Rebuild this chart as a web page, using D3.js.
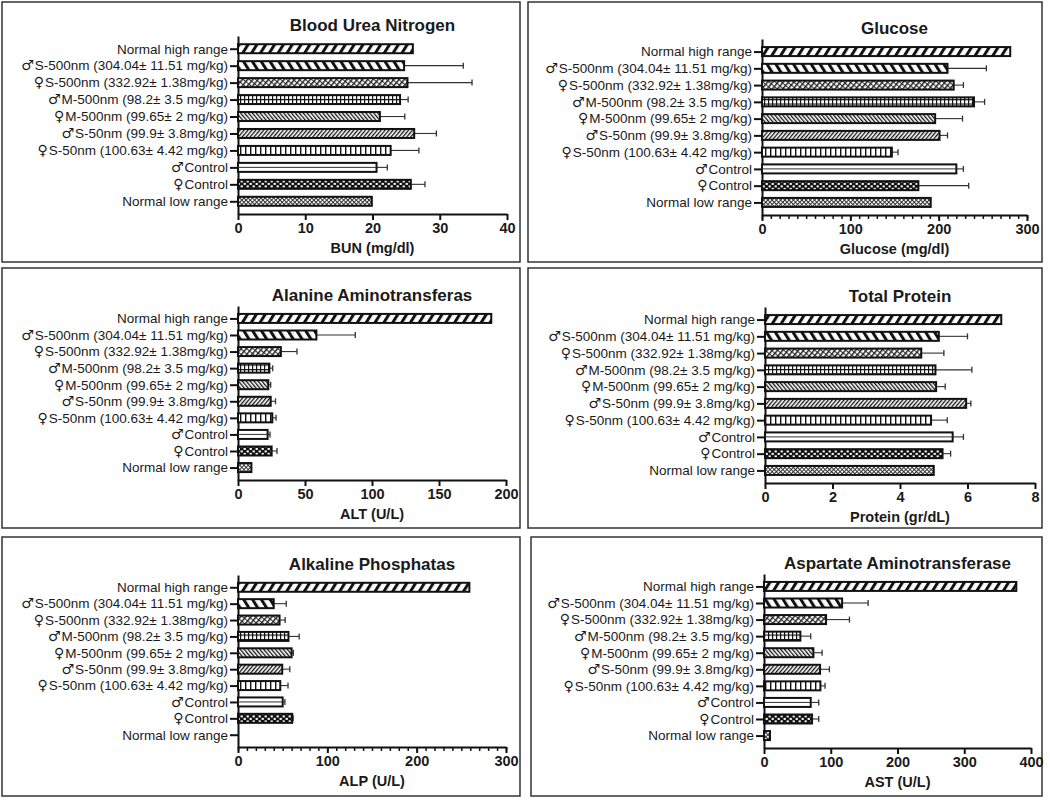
<!DOCTYPE html>
<html>
<head>
<meta charset="utf-8">
<script src="https://cdn.jsdelivr.net/npm/d3@7"></script>
<style>
  body { margin: 0; background: #fff; }
  svg text { font-family: "Liberation Sans", Arial, sans-serif; fill: #1a1a1a; }
</style>
</head>
<body>
<svg id="chart" width="1050" height="802"></svg>
<script>
// categories, top to bottom
const categories = [
  "Normal high range",
  "\u2642S-500nm (304.04\u00b1 11.51 mg/kg)",
  "\u2640S-500nm (332.92\u00b1 1.38mg/kg)",
  "\u2642M-500nm (98.2\u00b1 3.5 mg/kg)",
  "\u2640M-500nm (99.65\u00b1 2 mg/kg)",
  "\u2642S-50nm (99.9\u00b1 3.8mg/kg)",
  "\u2640S-50nm (100.63\u00b1 4.42 mg/kg)",
  "\u2642Control",
  "\u2640Control",
  "Normal low range"
];

// means and upper error (SD) per panel, same order as categories
const bunMean = [26, 24.7, 25.2, 24.1, 21.1, 26.2, 22.7, 20.6, 25.7, 19.9];
const bunErr  = [0, 8.8, 9.6, 1.2, 3.7, 3.3, 4.2, 1.6, 2.1, 0];
const glucoseMean = [281, 210, 217, 240, 196, 201, 147, 220, 177, 191];
const glucoseErr  = [0, 44, 11, 12, 31, 9, 7, 8, 57, 0];
const altMean = [189, 58.5, 32, 23.4, 22.6, 24.4, 25.6, 22.1, 25.1, 10];
const altErr  = [0, 29, 12, 2.5, 1.8, 3.6, 2.8, 1.8, 4, 0];
const proteinMean = [7.0, 5.15, 4.63, 5.05, 5.07, 5.96, 4.92, 5.56, 5.26, 5.0];
const proteinErr  = [0, 0.85, 0.67, 1.08, 0.27, 0.14, 0.48, 0.32, 0.24, 0];
const alpMean = [259, 40, 46.5, 56.5, 60, 49.5, 47.3, 50, 60.7, 0];
const alpErr  = [0, 14, 6.3, 12, 2, 8.5, 8.7, 2.5, 1, 0];
const astMean = [378, 117, 93, 54.5, 74, 84, 84.5, 70, 72, 9];
const astErr  = [0, 39, 35, 15.5, 13, 14, 7, 12, 10, 0];

// tick labels
const bunTicks = [0, 10, 20, 30, 40];
const glucoseTicks = [0, 100, 200, 300];
const altTicks = [0, 50, 100, 150, 200];
const proteinTicks = [0, 2, 4, 6, 8];
const alpTicks = [0, 100, 200, 300];
const astTicks = [0, 100, 200, 300, 400];

const svg = d3.select('#chart');
const defs = svg.append('defs');

// hatch patterns, one per category
function stripes(id, period, width, angle) {
  const p = defs.append('pattern').attr('id', id)
    .attr('patternUnits', 'userSpaceOnUse')
    .attr('width', period).attr('height', period)
    .attr('patternTransform', 'rotate(' + angle + ')');
  p.append('rect').attr('width', period).attr('height', period).attr('fill', '#fff');
  p.append('rect').attr('width', width).attr('height', period).attr('fill', '#111');
}
stripes('wideFwd', 7.5, 3, 32);
stripes('wideBack', 7.5, 3, -32);
stripes('fineBack', 3, 1.3, -40);
stripes('fineFwd', 3, 1.3, 40);
stripes('vert', 5, 1.4, 0);

let p = defs.append('pattern').attr('id', 'dotHatch')
  .attr('patternUnits', 'userSpaceOnUse').attr('width', 4).attr('height', 4)
  .attr('patternTransform', 'rotate(40)');
p.append('rect').attr('width', 4).attr('height', 4).attr('fill', '#fff');
p.append('rect').attr('width', 1.5).attr('height', 4).attr('fill', '#222');
p.append('rect').attr('width', 4).attr('height', 0.9).attr('fill', '#222');

p = defs.append('pattern').attr('id', 'grid')
  .attr('patternUnits', 'userSpaceOnUse').attr('width', 4).attr('height', 4.5);
p.append('rect').attr('width', 4).attr('height', 4.5).attr('fill', '#fff');
p.append('rect').attr('width', 1.2).attr('height', 4.5).attr('fill', '#111');
p.append('rect').attr('width', 4).attr('height', 1.2).attr('fill', '#111');

p = defs.append('pattern').attr('id', 'checker')
  .attr('patternUnits', 'userSpaceOnUse').attr('width', 6).attr('height', 5);
p.append('rect').attr('width', 6).attr('height', 5).attr('fill', '#111');
p.append('rect').attr('x', 0.6).attr('y', 0.4).attr('width', 2.2).attr('height', 2).attr('fill', '#fff');
p.append('rect').attr('x', 3.6).attr('y', 2.9).attr('width', 2.2).attr('height', 2).attr('fill', '#fff');

p = defs.append('pattern').attr('id', 'fineCross')
  .attr('patternUnits', 'userSpaceOnUse').attr('width', 3).attr('height', 3)
  .attr('patternTransform', 'rotate(45)');
p.append('rect').attr('width', 3).attr('height', 3).attr('fill', '#fff');
p.append('rect').attr('width', 1).attr('height', 3).attr('fill', '#333');
p.append('rect').attr('width', 3).attr('height', 1).attr('fill', '#333');

const fills = ['wideFwd', 'wideBack', 'dotHatch', 'grid', 'fineBack',
               'fineFwd', 'vert', 'white', 'checker', 'fineCross'];

const panels = [
  { box: [2, 2, 518, 260], x0: 238, x1: 507, top: 36, axisY: 214,
    title: 'Blood Urea Nitrogen', label: 'BUN (mg/dl)', mean: bunMean, err: bunErr,
    ticks: bunTicks, minor: null },
  { box: [528, 2, 514, 260], x0: 762, x1: 1027, top: 39, axisY: 215,
    title: 'Glucose', label: 'Glucose (mg/dl)', mean: glucoseMean, err: glucoseErr,
    ticks: glucoseTicks, minor: 10 },
  { box: [2, 268, 518, 260], x0: 238, x1: 506, top: 306, axisY: 480,
    title: 'Alanine Aminotransferas', label: 'ALT (U/L)', mean: altMean, err: altErr,
    ticks: altTicks, minor: null },
  { box: [528, 268, 514, 260], x0: 765, x1: 1035, top: 307, axisY: 483,
    title: 'Total Protein', label: 'Protein (gr/dL)', mean: proteinMean, err: proteinErr,
    ticks: proteinTicks, minor: null },
  { box: [2, 537, 518, 259], x0: 238, x1: 506, top: 575, axisY: 747,
    title: 'Alkaline Phosphatas', label: 'ALP (U/L)', mean: alpMean, err: alpErr,
    ticks: alpTicks, minor: 10 },
  { box: [531, 537, 511, 259], x0: 764, x1: 1031, top: 574, axisY: 748,
    title: 'Aspartate Aminotransferase', label: 'AST (U/L)', mean: astMean, err: astErr,
    ticks: astTicks, minor: null }
];

panels.forEach(function (cfg) {
  const g = svg.append('g');

  g.append('rect')
    .attr('x', cfg.box[0]).attr('y', cfg.box[1])
    .attr('width', cfg.box[2]).attr('height', cfg.box[3])
    .attr('fill', 'none').attr('stroke', '#333').attr('stroke-width', 1.5);

  const xMax = cfg.ticks[cfg.ticks.length - 1];
  const x = d3.scaleLinear().domain([0, xMax]).range([cfg.x0, cfg.x1]);
  const y = d3.scalePoint().domain(categories).range([cfg.top, cfg.axisY]).padding(0.75);

  const data = categories.map(function (c, i) {
    return { cat: c, v: cfg.mean[i], e: cfg.err[i], fill: fills[i] };
  });

  // minor ticks
  if (cfg.minor) {
    g.append('g')
      .attr('transform', 'translate(0,' + cfg.axisY + ')')
      .call(d3.axisBottom(x).tickValues(d3.range(0, xMax + 1, cfg.minor))
        .tickSize(4).tickSizeOuter(0).tickFormat(''))
      .call(function (a) {
        a.select('.domain').remove();
        a.selectAll('line').attr('stroke', '#111').attr('stroke-width', 1.5);
      });
  }

  // x axis
  g.append('g')
    .attr('transform', 'translate(0,' + cfg.axisY + ')')
    .call(d3.axisBottom(x).tickValues(cfg.ticks).tickSize(6).tickSizeOuter(0).tickPadding(3))
    .call(function (a) {
      a.select('.domain').attr('stroke', '#111').attr('stroke-width', 2);
      a.selectAll('line').attr('stroke', '#111').attr('stroke-width', 2);
      a.selectAll('text').attr('font-size', '14.5px').attr('font-weight', 'bold')
        .attr('fill', '#1a1a1a');
    });

  // y axis; the sex symbol is set in DejaVu so it renders full size
  g.append('g')
    .attr('transform', 'translate(' + cfg.x0 + ',0)')
    .call(d3.axisLeft(y).tickSize(8).tickSizeOuter(0).tickPadding(2))
    .call(function (a) {
      a.select('.domain').attr('stroke', '#111').attr('stroke-width', 2);
      a.selectAll('line').attr('stroke', '#111').attr('stroke-width', 2);
      a.selectAll('text').attr('font-size', '13.5px').attr('fill', '#1a1a1a')
        .each(function (d) {
          const first = d.charAt(0);
          if (first === '\u2642' || first === '\u2640') {
            const t = d3.select(this).text(null);
            t.append('tspan').attr('font-family', '"DejaVu Sans", sans-serif')
              .attr('font-size', '14px').text(first);
            t.append('tspan').attr('dx', 1).text(d.slice(1));
          }
        });
    });

  const bh = 9;
  const bars = data.filter(function (d) { return d.v > 0; });

  // error bars (upper side only)
  const eb = g.append('g').selectAll('g').data(bars.filter(function (d) { return d.e > 0; }))
    .enter().append('g');
  eb.append('line')
    .attr('x1', function (d) { return x(d.v); })
    .attr('x2', function (d) { return x(d.v + d.e); })
    .attr('y1', function (d) { return y(d.cat); })
    .attr('y2', function (d) { return y(d.cat); })
    .attr('stroke', '#333').attr('stroke-width', 1.1);
  eb.append('line')
    .attr('x1', function (d) { return x(d.v + d.e); })
    .attr('x2', function (d) { return x(d.v + d.e); })
    .attr('y1', function (d) { return y(d.cat) - 3; })
    .attr('y2', function (d) { return y(d.cat) + 3; })
    .attr('stroke', '#333').attr('stroke-width', 1.3);

  // bars
  g.append('g').selectAll('rect').data(bars).enter().append('rect')
    .attr('x', x(0))
    .attr('y', function (d) { return y(d.cat) - bh / 2; })
    .attr('width', function (d) { return x(d.v) - x(0); })
    .attr('height', bh)
    .attr('fill', function (d) { return d.fill === 'white' ? '#fff' : 'url(#' + d.fill + ')'; })
    .attr('stroke', '#111').attr('stroke-width', 2);

  // middle line for the plain (male control) bar
  g.append('g').selectAll('line').data(bars.filter(function (d) { return d.fill === 'white'; }))
    .enter().append('line')
    .attr('x1', x(0))
    .attr('x2', function (d) { return x(d.v); })
    .attr('y1', function (d) { return y(d.cat); })
    .attr('y2', function (d) { return y(d.cat); })
    .attr('stroke', '#333').attr('stroke-width', 1);

  // titles
  g.append('text')
    .attr('x', (cfg.x0 + cfg.x1) / 2).attr('y', cfg.top - 5)
    .attr('text-anchor', 'middle').attr('font-size', '17px').attr('font-weight', 'bold')
    .text(cfg.title);

  g.append('text')
    .attr('x', (cfg.x0 + cfg.x1) / 2).attr('y', cfg.axisY + 39)
    .attr('text-anchor', 'middle').attr('font-size', '14.5px').attr('font-weight', 'bold')
    .text(cfg.label);
});
</script>
</body>
</html>
